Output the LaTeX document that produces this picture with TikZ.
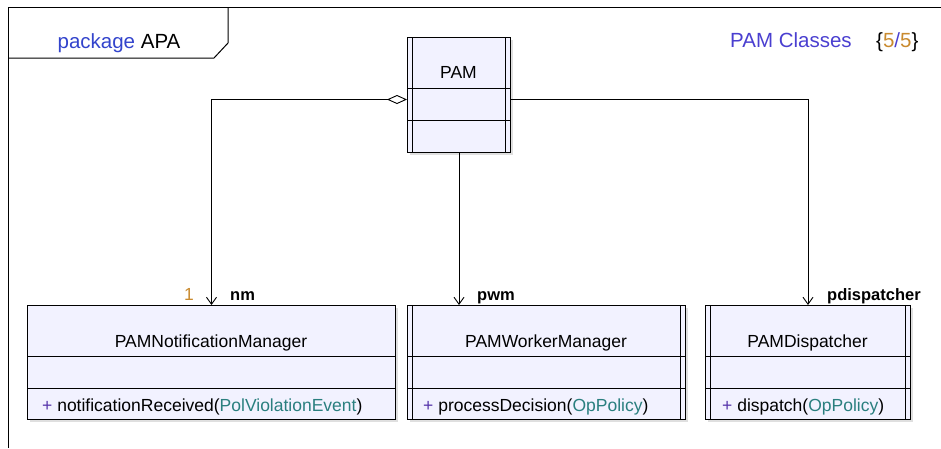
\documentclass[tikz,border=0pt]{standalone}
\usepackage{fontspec}
\setmainfont{Liberation Sans}
\usepackage{xcolor}
\usetikzlibrary{arrows.meta}
\usetikzlibrary{shadows}

\definecolor{classfill}{HTML}{F2F2FF}
\definecolor{pkgblue}{HTML}{3344CC}
\definecolor{titleblue}{HTML}{4A3FD0}
\definecolor{multorange}{HTML}{C98A2E}
\definecolor{optype}{HTML}{2A7F7F}
\definecolor{opplus}{HTML}{5533AA}

\tikzset{
  classbox/.style={draw, line width=1pt, fill=classfill, inner sep=0pt, anchor=north west,
    drop shadow={shadow xshift=2pt, shadow yshift=-2pt, fill=black!25}},
  compline/.style={line width=1pt},
  assoc/.style={line width=0.9pt, -{Straight Barb[length=7pt,width=10pt]}},
  agg/.style={line width=0.9pt, {Diamond[open,length=20pt,width=9pt]}-{Straight Barb[length=7pt,width=10pt]}},
  rolelabel/.style={inner sep=0pt, font=\fontsize{16.5}{19}\selectfont\bfseries},
  headtext/.style={inner sep=0pt, font=\fontsize{20.5}{24}\selectfont}
}

\begin{document}
\begin{tikzpicture}[x=1pt, y=-1pt, font=\fontsize{17.5}{21}\selectfont]
\useasboundingbox (0,0) rectangle (941,448);

% package frame
\draw [line width=1pt] (8,448) -- (8,7) -- (941,7);
\draw [line width=1pt] (8,58) -- (214,58) -- (228,43) -- (228,7);
\node [headtext, anchor=base] (pkg) at (119,48) {\textcolor{pkgblue}{package} APA};
\node [headtext, anchor=base west, text=titleblue] (title) at (730,47) {PAM Classes};
\node [headtext, anchor=base west] (count) at (876,47) {\{\textcolor{multorange}{5}\textcolor{titleblue}{/}\textcolor{multorange}{5}\}};

% PAM
\node [classbox, minimum width=103pt, minimum height=115pt] (pam) at (407,37) {};
\draw [compline] (412,37) -- (412,152);
\draw [compline] (505,37) -- (505,152);
\draw [compline] (407,88) -- (510,88);
\draw [compline] (407,120) -- (510,120);
\node [anchor=base] (pamname) at (458.5,78) {PAM};

% PAMNotificationManager
\node [classbox, minimum width=368pt, minimum height=114pt] (nmgr) at (27,305) {};
\draw [compline] (27,356) -- (395,356);
\draw [compline] (27,388) -- (395,388);
\node [anchor=base] (nmname) at (211,347) {PAMNotificationManager};
\node [anchor=base west, inner sep=0pt] (nmop) at (42,411) {\textcolor{opplus}{+} notificationReceived(\textcolor{optype}{PolViolationEvent})};

% PAMWorkerManager
\node [classbox, minimum width=278pt, minimum height=114pt] (wmgr) at (407,305) {};
\draw [compline] (412,305) -- (412,419);
\draw [compline] (680,305) -- (680,419);
\draw [compline] (407,356) -- (685,356);
\draw [compline] (407,388) -- (685,388);
\node [anchor=base] (wmname) at (546,347) {PAMWorkerManager};
\node [anchor=base west, inner sep=0pt] (wmop) at (423,411) {\textcolor{opplus}{+} processDecision(\textcolor{optype}{OpPolicy})};

% PAMDispatcher
\node [classbox, minimum width=205pt, minimum height=114pt] (disp) at (705,305) {};
\draw [compline] (710,305) -- (710,419);
\draw [compline] (905,305) -- (905,419);
\draw [compline] (705,356) -- (910,356);
\draw [compline] (705,388) -- (910,388);
\node [anchor=base] (dpname) at (807.5,347) {PAMDispatcher};
\node [anchor=base west, inner sep=0pt] (dpop) at (722,411) {\textcolor{opplus}{+} dispatch(\textcolor{optype}{OpPolicy})};

% associations
\draw [agg] ([yshift=-4.5pt]pam.west) -| (nmgr.north);
\draw [assoc] (pam.south) -- (pam.south |- wmgr.north);
\draw [assoc] ([yshift=-4.5pt]pam.east) -| (disp.north);

\node [anchor=base east, inner sep=0pt, text=multorange] (nmmult) at (194,300) {1};
\node [rolelabel, anchor=base west] (nmrole) at (230,300) {nm};
\node [rolelabel, anchor=base west] (wmrole) at (477,300) {pwm};
\node [rolelabel, anchor=base west] (dprole) at (827,300) {pdispatcher};
\end{tikzpicture}
\end{document}
